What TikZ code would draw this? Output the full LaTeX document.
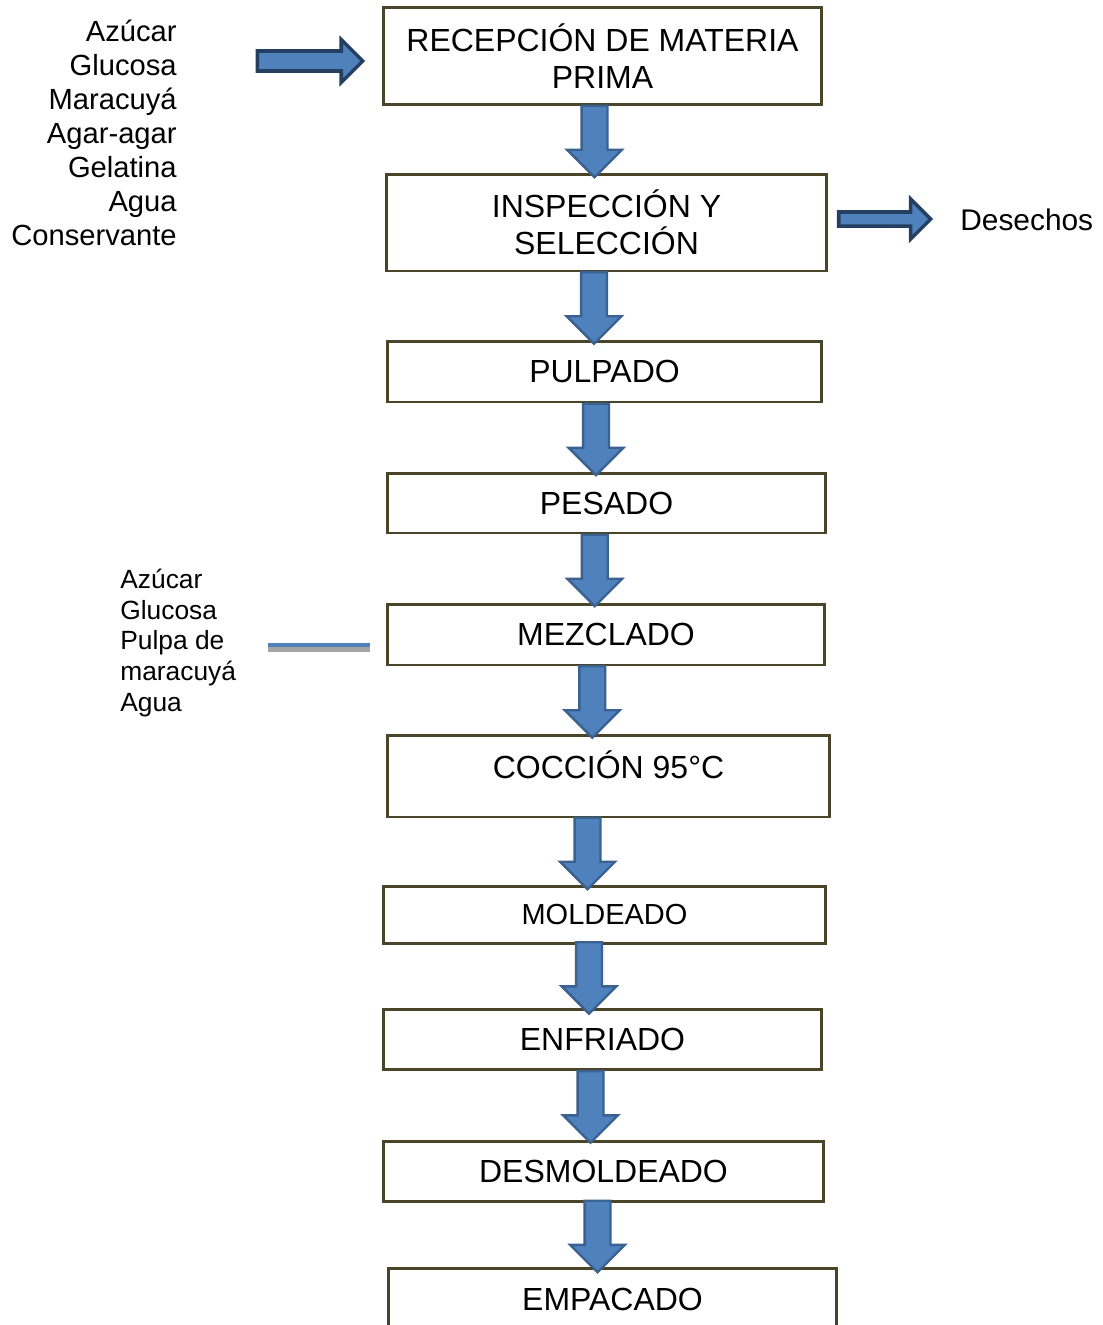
\documentclass[tikz,border=0pt]{standalone}
\usepackage{fontspec}
\setmainfont{Liberation Sans}
\usepackage{xcolor}
\usepackage{tikz}
\usetikzlibrary{calc,shapes.arrows}
\definecolor{boxline}{HTML}{4A4529}
\definecolor{arrowfill}{HTML}{4F81BD}
\definecolor{arrowedge}{HTML}{3A6190}
\definecolor{arrowdark}{HTML}{243F60}
\definecolor{linegray}{HTML}{A5A5A5}

\tikzset{
  procbox/.style={rectangle, draw=boxline, line width=1.7pt, fill=white, inner sep=0pt, align=center, font=\fontsize{18.2}{21}\selectfont},
  downarr/.style={single arrow, rotate=-90, fill=arrowfill, draw=arrowedge, line width=1.4pt, inner xsep=0pt, inner ysep=0.235cm, minimum height=1.43cm, minimum width=1.05cm, single arrow head extend=0.29cm},
  sidearr/.style={single arrow, fill=arrowfill, draw=arrowdark, line width=2pt, inner xsep=0pt}
}

\begin{document}
\begin{tikzpicture}[x=0.02cm, y=-0.02cm]

\path[use as bounding box] (0,0) rectangle (1102,1325);
\clip (0,0) rectangle (1102,1325);

% Process steps
\node[procbox, minimum width=8.78cm, minimum height=1.96cm] (recep) at (602.5, 56) {RECEPCIÓN DE MATERIA\\PRIMA};
\node[procbox, minimum width=8.82cm, minimum height=1.94cm] (insp) at (606.5, 222.5) {INSPECCIÓN Y\\SELECCIÓN};
\node[procbox, minimum width=8.70cm, minimum height=1.22cm] (pulp) at (604.5, 371.5) {PULPADO};
\node[procbox, minimum width=8.78cm, minimum height=1.20cm] (pes) at (606.5, 503) {PESADO};
\node[procbox, minimum width=8.76cm, minimum height=1.22cm] (mezc) at (606, 634.5) {MEZCLADO};
\node[procbox, minimum width=8.86cm, minimum height=1.64cm] (cocc) at (608.5, 776) {\raisebox{0.44cm}{COCCIÓN 95°C}};
\node[procbox, minimum width=8.86cm, minimum height=1.14cm, font=\fontsize{16.5}{19}\selectfont] (mold) at (604.5, 914.5) {MOLDEADO};
\node[procbox, minimum width=8.78cm, minimum height=1.20cm] (enfr) at (602.5, 1039) {ENFRIADO};
\node[procbox, minimum width=8.82cm, minimum height=1.20cm] (desm) at (603.5, 1171) {DESMOLDEADO};
\node[procbox, minimum width=8.98cm, minimum height=1.68cm] (emp) at (612.5, 1310) {\raisebox{0.42cm}{EMPACADO}};

% Inputs and outputs
\node[anchor=east, align=right, inner sep=0pt, font=\fontsize{16.6}{19.35}\selectfont] (insumos) at (177, 132.5) {Azúcar\\Glucosa\\Maracuyá\\Agar-agar\\Gelatina\\Agua\\Conservante};
\node[anchor=west, align=left, inner sep=0pt, font=\fontsize{15}{17.6}\selectfont] (mezcla) at (120, 643) {Azúcar\\Glucosa\\Pulpa de\\maracuyá\\Agua};
\node[anchor=west, inner sep=0pt, font=\fontsize{17}{20}\selectfont] (desechos) at (960, 220) {Desechos};

% Flow arrows
\path (recep.south) -- (insp.north) node[midway, xshift=-0.2cm, yshift=0.09cm, downarr] (a1) {};
\path (insp.south) -- (pulp.north) node[midway, xshift=-0.23cm, yshift=0.09cm, downarr] (a2) {};
\path (pulp.south) -- (pes.north) node[midway, xshift=-0.19cm, yshift=0.09cm, downarr] (a3) {};
\path (pes.south) -- (mezc.north) node[midway, xshift=-0.23cm, yshift=0.09cm, downarr] (a4) {};
\path (mezc.south) -- (cocc.north) node[midway, xshift=-0.3cm, yshift=0.09cm, downarr] (a5) {};
\path (cocc.south) -- (mold.north) node[midway, xshift=-0.38cm, yshift=0.09cm, downarr] (a6) {};
\path (mold.south) -- (enfr.north) node[midway, xshift=-0.29cm, yshift=0.09cm, downarr] (a7) {};
\path (enfr.south) -- (desm.north) node[midway, xshift=-0.25cm, yshift=0.09cm, downarr] (a8) {};
\path (desm.south) -- (emp.north) node[midway, xshift=-0.21cm, yshift=0.09cm, downarr] (a9) {};

% Side arrows
\node[sidearr, inner ysep=0.165cm, minimum height=2.11cm, minimum width=0.79cm, single arrow head extend=0.23cm] (entrada) at (305, 61) {};
\path (insp.east) -- (desechos.west) node[midway, xshift=-0.26cm, yshift=0.045cm, sidearr, inner ysep=0.105cm, minimum height=1.84cm, minimum width=0.73cm, single arrow head extend=0.26cm] (salida) {};

% Mixing line
\coordinate (mixa) at (268, 645);
\coordinate (mixb) at (370, 645);
\draw[linegray, line width=0.09cm] ([yshift=-0.09cm]mixa) -- ([yshift=-0.09cm]mixb);
\draw[arrowfill, line width=0.09cm] (mixa) -- (mixb);

\end{tikzpicture}
\end{document}
